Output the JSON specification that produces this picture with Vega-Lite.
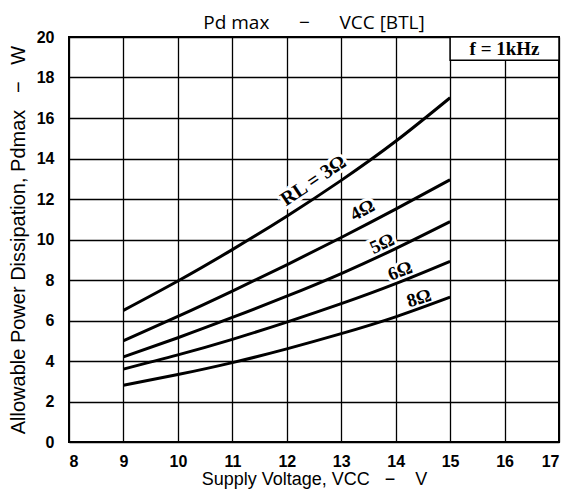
{
  "$schema": "https://vega.github.io/schema/vega-lite/v6.json",
  "width": 490,
  "height": 405,
  "autosize": "none",
  "padding": {"left": 69, "top": 37, "right": 6, "bottom": 49},
  "title": {"text": "Pd max\u00a0\u00a0\u00a0\u00a0\u00a0\u00a0−\u00a0\u00a0\u00a0\u00a0\u00a0\u00a0VCC [BTL]", "font": "Open Sans", "fontSize": 19, "fontWeight": "normal", "color": "black", "offset": -4, "anchor": "middle"},
  "config": {
    "view": {"stroke": "black", "strokeWidth": 2},
    "axis": {
      "domain": false,
      "ticks": false,
      "grid": true,
      "gridColor": "black",
      "gridOpacity": 1,
      "gridWidth": 1.3,
      "labelFont": "Liberation Sans",
      "labelFontWeight": "bold",
      "labelFontSize": 16,
      "labelColor": "black",
      "titleFont": "Liberation Sans",
      "titleFontWeight": "normal",
      "titleColor": "black"
    }
  },
  "datasets": {
    "curves": [
      {"R": "3", "V": 9, "P": 6.5}, {"R": "3", "V": 10, "P": 7.95}, {"R": "3", "V": 11, "P": 9.5}, {"R": "3", "V": 12, "P": 11.15}, {"R": "3", "V": 13, "P": 12.92}, {"R": "3", "V": 14, "P": 14.85}, {"R": "3", "V": 15, "P": 17.0},
      {"R": "4", "V": 9, "P": 5.0}, {"R": "4", "V": 10, "P": 6.2}, {"R": "4", "V": 11, "P": 7.45}, {"R": "4", "V": 12, "P": 8.75}, {"R": "4", "V": 13, "P": 10.1}, {"R": "4", "V": 14, "P": 11.5}, {"R": "4", "V": 15, "P": 12.95},
      {"R": "5", "V": 9, "P": 4.2}, {"R": "5", "V": 10, "P": 5.15}, {"R": "5", "V": 11, "P": 6.15}, {"R": "5", "V": 12, "P": 7.2}, {"R": "5", "V": 13, "P": 8.32}, {"R": "5", "V": 14, "P": 9.55}, {"R": "5", "V": 15, "P": 10.88},
      {"R": "6", "V": 9, "P": 3.6}, {"R": "6", "V": 10, "P": 4.3}, {"R": "6", "V": 11, "P": 5.07}, {"R": "6", "V": 12, "P": 5.92}, {"R": "6", "V": 13, "P": 6.83}, {"R": "6", "V": 14, "P": 7.82}, {"R": "6", "V": 15, "P": 8.92},
      {"R": "8", "V": 9, "P": 2.8}, {"R": "8", "V": 10, "P": 3.33}, {"R": "8", "V": 11, "P": 3.92}, {"R": "8", "V": 12, "P": 4.6}, {"R": "8", "V": 13, "P": 5.35}, {"R": "8", "V": 14, "P": 6.18}, {"R": "8", "V": 15, "P": 7.15}
    ],
    "labels": [
      {"R": "3", "V": 12.49, "P": 12.9, "label": "RL = 3Ω"},
      {"R": "4", "V": 13.39, "P": 11.45, "label": "4Ω"},
      {"R": "5", "V": 13.75, "P": 9.8, "label": "5Ω"},
      {"R": "6", "V": 14.08, "P": 8.45, "label": "6Ω"},
      {"R": "8", "V": 14.43, "P": 7.1, "label": "8Ω"}
    ],
    "note": [{"x1": 15, "x2": 17, "y1": 18.85, "y2": 20, "xm": 16, "ym": 19.42, "label": "f = 1kHz"}]
  },
  "layer": [
    {
      "data": {"name": "labels"},
      "transform": [{"filter": "datum.R == '3'"}],
      "mark": {"type": "text", "angle": -34, "font": "Liberation Serif", "fontWeight": "bold", "fontSize": 20, "stroke": "white", "strokeWidth": 6, "fill": "white"},
      "encoding": {"x": {"field": "V", "type": "quantitative"}, "y": {"field": "P", "type": "quantitative"}, "text": {"field": "label"}}
    },
    {
      "data": {"name": "labels"},
      "transform": [{"filter": "datum.R == '4'"}],
      "mark": {"type": "text", "angle": -28, "font": "Liberation Serif", "fontWeight": "bold", "fontSize": 19, "stroke": "white", "strokeWidth": 6, "fill": "white"},
      "encoding": {"x": {"field": "V", "type": "quantitative"}, "y": {"field": "P", "type": "quantitative"}, "text": {"field": "label"}}
    },
    {
      "data": {"name": "labels"},
      "transform": [{"filter": "datum.R == '5'"}],
      "mark": {"type": "text", "angle": -25, "font": "Liberation Serif", "fontWeight": "bold", "fontSize": 19, "stroke": "white", "strokeWidth": 6, "fill": "white"},
      "encoding": {"x": {"field": "V", "type": "quantitative"}, "y": {"field": "P", "type": "quantitative"}, "text": {"field": "label"}}
    },
    {
      "data": {"name": "labels"},
      "transform": [{"filter": "datum.R == '6'"}],
      "mark": {"type": "text", "angle": -21, "font": "Liberation Serif", "fontWeight": "bold", "fontSize": 19, "stroke": "white", "strokeWidth": 6, "fill": "white"},
      "encoding": {"x": {"field": "V", "type": "quantitative"}, "y": {"field": "P", "type": "quantitative"}, "text": {"field": "label"}}
    },
    {
      "data": {"name": "labels"},
      "transform": [{"filter": "datum.R == '8'"}],
      "mark": {"type": "text", "angle": -17, "font": "Liberation Serif", "fontWeight": "bold", "fontSize": 19, "stroke": "white", "strokeWidth": 6, "fill": "white"},
      "encoding": {"x": {"field": "V", "type": "quantitative"}, "y": {"field": "P", "type": "quantitative"}, "text": {"field": "label"}}
    },
    {
      "data": {"name": "curves"},
      "mark": {"type": "line", "color": "black", "strokeWidth": 3, "interpolate": "natural"},
      "encoding": {
        "x": {"field": "V", "type": "quantitative", "scale": {"domain": [8, 17], "nice": false, "zero": false},
              "axis": {"values": [8, 9, 10, 11, 12, 13, 14, 15, 16, 17], "format": "d", "title": "Supply Voltage, VCC\u00a0\u00a0\u00a0−\u00a0\u00a0\u00a0\u00a0V", "titleFontSize": 18, "labelPadding": 11, "titlePadding": 1}},
        "y": {"field": "P", "type": "quantitative", "scale": {"domain": [0, 20], "nice": false},
              "axis": {"values": [0, 2, 4, 6, 8, 10, 12, 14, 16, 18, 20], "format": "d", "title": "Allowable Power Dissipation, Pdmax\u00a0\u00a0\u00a0−\u00a0\u00a0\u00a0W", "titleFontSize": 20, "labelPadding": 15, "titlePadding": 8}},
        "detail": {"field": "R"}
      }
    },
    {
      "data": {"name": "labels"},
      "transform": [{"filter": "datum.R == '3'"}],
      "mark": {"type": "text", "angle": -34, "font": "Liberation Serif", "fontWeight": "bold", "fontSize": 20, "fill": "black"},
      "encoding": {"x": {"field": "V", "type": "quantitative"}, "y": {"field": "P", "type": "quantitative"}, "text": {"field": "label"}}
    },
    {
      "data": {"name": "labels"},
      "transform": [{"filter": "datum.R == '4'"}],
      "mark": {"type": "text", "angle": -28, "font": "Liberation Serif", "fontWeight": "bold", "fontSize": 19, "fill": "black"},
      "encoding": {"x": {"field": "V", "type": "quantitative"}, "y": {"field": "P", "type": "quantitative"}, "text": {"field": "label"}}
    },
    {
      "data": {"name": "labels"},
      "transform": [{"filter": "datum.R == '5'"}],
      "mark": {"type": "text", "angle": -25, "font": "Liberation Serif", "fontWeight": "bold", "fontSize": 19, "fill": "black"},
      "encoding": {"x": {"field": "V", "type": "quantitative"}, "y": {"field": "P", "type": "quantitative"}, "text": {"field": "label"}}
    },
    {
      "data": {"name": "labels"},
      "transform": [{"filter": "datum.R == '6'"}],
      "mark": {"type": "text", "angle": -21, "font": "Liberation Serif", "fontWeight": "bold", "fontSize": 19, "fill": "black"},
      "encoding": {"x": {"field": "V", "type": "quantitative"}, "y": {"field": "P", "type": "quantitative"}, "text": {"field": "label"}}
    },
    {
      "data": {"name": "labels"},
      "transform": [{"filter": "datum.R == '8'"}],
      "mark": {"type": "text", "angle": -17, "font": "Liberation Serif", "fontWeight": "bold", "fontSize": 19, "fill": "black"},
      "encoding": {"x": {"field": "V", "type": "quantitative"}, "y": {"field": "P", "type": "quantitative"}, "text": {"field": "label"}}
    },
    {
      "data": {"name": "note"},
      "mark": {"type": "rect", "fill": "white", "stroke": "black", "strokeWidth": 1.5},
      "encoding": {"x": {"field": "x1", "type": "quantitative"}, "x2": {"field": "x2"}, "y": {"field": "y1", "type": "quantitative"}, "y2": {"field": "y2"}}
    },
    {
      "data": {"name": "note"},
      "mark": {"type": "text", "font": "Liberation Serif", "fontWeight": "bold", "fontSize": 19, "fill": "black"},
      "encoding": {"x": {"field": "xm", "type": "quantitative"}, "y": {"field": "ym", "type": "quantitative"}, "text": {"field": "label"}}
    }
  ]
}
